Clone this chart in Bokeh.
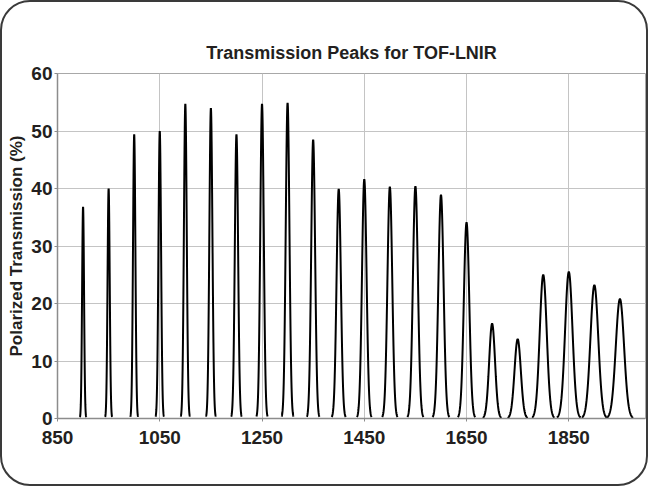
import numpy as np
from bokeh.plotting import figure
from bokeh.models import FixedTicker, Range1d, ColumnDataSource
from bokeh.embed import file_html
from bokeh.resources import INLINE

# ---- data ----
title_text = "Transmission Peaks for TOF-LNIR"
y_label = "Polarized Transmission (%)"
x_ticks = [850, 1050, 1250, 1450, 1650, 1850]
y_ticks = [0, 10, 20, 30, 40, 50, 60]

peak_centers = [900, 950, 1000, 1050, 1100, 1150, 1200, 1250, 1300, 1350, 1400,
                1450, 1500, 1550, 1600, 1650, 1700, 1750, 1800, 1850, 1900, 1950]
peak_heights = [36.8, 40.0, 49.4, 50.0, 54.7, 54.0, 49.4, 54.7, 54.9, 48.5, 39.9,
                41.6, 40.3, 40.4, 38.9, 34.1, 16.5, 13.8, 25.0, 25.5, 23.2, 20.8]
peak_fwhm = [4.5, 5.0, 5.5, 6.0, 6.5, 7.0, 7.5, 8.0, 8.5, 9.0, 10.0,
             10.5, 11.0, 11.5, 12.0, 12.5, 13.5, 14.5, 16.0, 17.0, 18.0, 19.0]

# ---- peak profiles (shape from centre / height / width) ----
xs, ys = [], []
for c, h, w in zip(peak_centers, peak_heights, peak_fwhm):
    s = w / 2.3548
    x = np.linspace(c - 3.2 * s, c + 3.2 * s, 81)
    y = h * np.exp(-0.5 * ((x - c) / s) ** 2)
    xs.append(list(x))
    ys.append(list(y))
src = ColumnDataSource(dict(xs=xs, ys=ys))

TXT = "#231f20"
FONT = "Liberation Sans"

p = figure(width=644, height=482,
           x_range=Range1d(850, 2000), y_range=Range1d(0, 60),
           output_backend="svg", toolbar_location=None,
           min_border_left=55, min_border_right=5,
           min_border_top=71, min_border_bottom=70)

p.border_fill_color = None
p.background_fill_color = "white"
p.outline_line_color = "#a8a8a8"
p.outline_line_width = 1

p.title.text = title_text
p.title.align = "center"
p.title.text_font = FONT
p.title.text_font_size = "18px"
p.title.text_font_style = "bold"
p.title.text_color = TXT
p.title.standoff = 22

p.multi_line("xs", "ys", source=src, line_color="black", line_width=2)

for ax in (p.xaxis[0], p.yaxis[0]):
    ax.major_label_text_font = FONT
    ax.major_label_text_font_size = "19px"
    ax.major_label_text_font_style = "bold"
    ax.major_label_text_color = TXT
    ax.axis_line_color = "#8c8c8c"
    ax.axis_line_width = 1.5
    ax.major_tick_line_color = "#8c8c8c"
    ax.major_tick_out = 3
    ax.major_tick_in = 0
    ax.minor_tick_line_color = None

p.xaxis.ticker = FixedTicker(ticks=x_ticks)
p.yaxis.ticker = FixedTicker(ticks=y_ticks)
p.xaxis.major_label_standoff = 9
p.yaxis.major_label_standoff = 2

p.yaxis.axis_label = y_label
p.yaxis.axis_label_text_font = FONT
p.yaxis.axis_label_text_font_size = "17px"
p.yaxis.axis_label_text_font_style = "bold"
p.yaxis.axis_label_text_color = TXT
p.yaxis.axis_label_standoff = 2

p.xgrid.ticker = FixedTicker(ticks=x_ticks)
p.ygrid.ticker = FixedTicker(ticks=y_ticks)
p.grid.grid_line_color = "#c4c4c4"
p.grid.grid_line_width = 1

p.styles = {"border": "2px solid #3a3a3a", "border-radius": "30px",
            "box-sizing": "content-box"}

open("out.html", "w").write(file_html(p, INLINE))
